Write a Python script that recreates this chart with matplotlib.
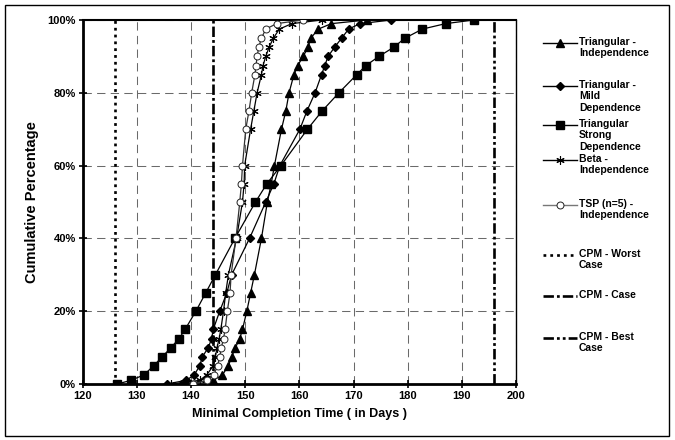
import matplotlib
matplotlib.use("Agg")
import matplotlib.pyplot as plt
from matplotlib.lines import Line2D
from matplotlib.patches import Rectangle
from matplotlib.ticker import FuncFormatter

plt.rcParams['font.family'] = ['Liberation Sans', 'DejaVu Sans']
plt.rcParams['font.weight'] = 'bold'
plt.rcParams['lines.scale_dashes'] = False

# percentiles (y) shared by every series
pct = [0, 1, 2.5, 5, 7.5, 10, 12.5, 15, 20, 25, 30, 40, 50, 55, 60,
       70, 75, 80, 85, 87.5, 90, 92.5, 95, 97.5, 99, 100]

# completion times (x)
tri_ind = [138.1, 144.1, 145.8, 146.9, 147.5, 148.2, 149.0, 149.5, 150.3, 151.0, 151.7,
           153.0, 154.1, 154.8, 155.4, 156.7, 157.5, 158.1, 159.0, 159.7, 160.7,
           161.6, 162.1, 163.5, 165.9, 172.4]
tri_mild = [135.5, 139.1, 140.6, 141.6, 142.1, 143.2, 143.8, 144.1, 145.3, 146.6, 147.5,
            150.8, 153.8, 155.3, 156.4, 160.1, 161.4, 162.9, 164.1, 164.7, 165.3,
            166.5, 167.8, 169.1, 171.2, 177.0]
tri_strong = [126.4, 128.9, 131.3, 133.1, 134.7, 136.3, 137.8, 138.9, 140.9, 142.7, 144.5,
              148.1, 151.9, 154.0, 156.6, 161.5, 164.2, 167.3, 170.6, 172.3, 174.7,
              177.4, 179.5, 182.7, 187.0, 192.2]
beta_ind = [136.3, 141.6, 142.9, 144.1, 144.5, 144.8, 145.2, 145.5, 146.0, 146.4, 146.9,
            148.4, 149.5, 149.8, 149.9, 151.0, 151.6, 152.2, 153.0, 153.3, 153.8,
            154.4, 155.2, 156.3, 158.6, 164.1]
tsp_ind = [140.3, 142.9, 144.2, 144.9, 145.3, 145.6, 146.0, 146.3, 146.7, 147.2, 147.4,
           148.3, 149.0, 149.3, 149.5, 150.1, 150.7, 151.2, 151.8, 152.0, 152.2,
           152.5, 153.0, 153.8, 155.8, 160.6]

# CPM estimates (vertical lines)
cpm_worst = 126
cpm_case = 144
cpm_best = 196

labels = ["Triangular -\nIndependence",
          "Triangular -\nMild\nDependence",
          "Triangular\nStrong\nDependence",
          "Beta -\nIndependence",
          "TSP (n=5) -\nIndependence",
          "CPM - Worst\nCase",
          "CPM - Case",
          "CPM - Best\nCase"]

W, H = 675, 440
fig = plt.figure(figsize=(W / 100, H / 100), dpi=100)
ax = fig.add_axes([82.7 / W, 1 - 384 / H, (516 - 82.7) / W, (384 - 20) / H])

styles = [
    dict(marker='^', ms=5.5, mfc='black', mec='black', color='black'),
    dict(marker='D', ms=4.3, mfc='black', mec='black', color='black'),
    dict(marker='s', ms=5.2, mfc='black', mec='black', color='black'),
    dict(marker=(6, 2, 0), ms=6, mfc='black', mec='black', mew=0.8, color='black'),
    dict(marker='o', ms=5, mfc='white', mec='#222222', mew=0.7, color='#333333'),
]
series = [tri_ind, tri_mild, tri_strong, beta_ind, tsp_ind]
for xs, st in zip(series, styles):
    ax.plot(xs, pct, lw=0.9, zorder=4, **st)

cpm_dash = [(0, (2.0, 2.9)), (0, (7.5, 2.2, 2.0, 2.2)), (0, (7.5, 2.2, 2.0, 2.2, 2.0, 2.2))]
for xv, ls in zip([cpm_worst, cpm_case, cpm_best], cpm_dash):
    ax.axvline(xv, color='black', lw=1.9, linestyle=ls, zorder=3)

ax.set_xlim(120, 200)
ax.set_ylim(0, 100)
ax.set_xticks(range(120, 201, 10))
ax.set_yticks(range(0, 101, 20))
ax.yaxis.set_major_formatter(FuncFormatter(lambda v, p: f"{int(v)}%"))
ax.grid(True, color='#6a6a6a', lw=0.75, linestyle=(0, (6, 3.8)), zorder=1)
ax.tick_params(direction='inout', length=6, width=1.2, labelsize=8, pad=2)
for lab in ax.get_xticklabels() + ax.get_yticklabels():
    lab.set_fontweight('bold')
ax.spines['left'].set_linewidth(2)
ax.spines['bottom'].set_linewidth(2)
ax.spines['top'].set_linewidth(1.5)
ax.spines['right'].set_linewidth(1)

ax.set_xlabel("Minimal Completion Time ( in Days )", fontsize=9, fontweight='bold', labelpad=5)
ax.set_ylabel("Cumulative Percentage", fontsize=10.5, fontweight='bold', labelpad=6)

# legend drawn in pixel space to keep the uneven Excel spacing
lax = fig.add_axes([0, 0, 1, 1], zorder=-1)
lax.set_xlim(0, W)
lax.set_ylim(H, 0)
lax.axis('off')
lax.add_patch(Rectangle((5, 5), 664, 431, fill=False, ec='black', lw=1))
rows = [43, 86, 125, 160, 205, 255, 296, 338]
for i, (lab, y) in enumerate(zip(labels, rows)):
    if i < 5:
        st = dict(styles[i])
        col = '#777777' if i == 4 else 'black'
        lax.add_line(Line2D([543, 577], [y, y], lw=1, color=col))
        lax.add_line(Line2D([560], [y], lw=0, **{k: v for k, v in st.items() if k != 'color'}))
    else:
        lax.add_line(Line2D([543, 577], [y, y], color='black', lw=1.9, linestyle=cpm_dash[i - 5]))
    lax.text(579, y - 6, lab, fontsize=7.5, fontweight='bold', va='top', ha='left',
             linespacing=1.18)

fig.savefig("out.png", dpi=100)
